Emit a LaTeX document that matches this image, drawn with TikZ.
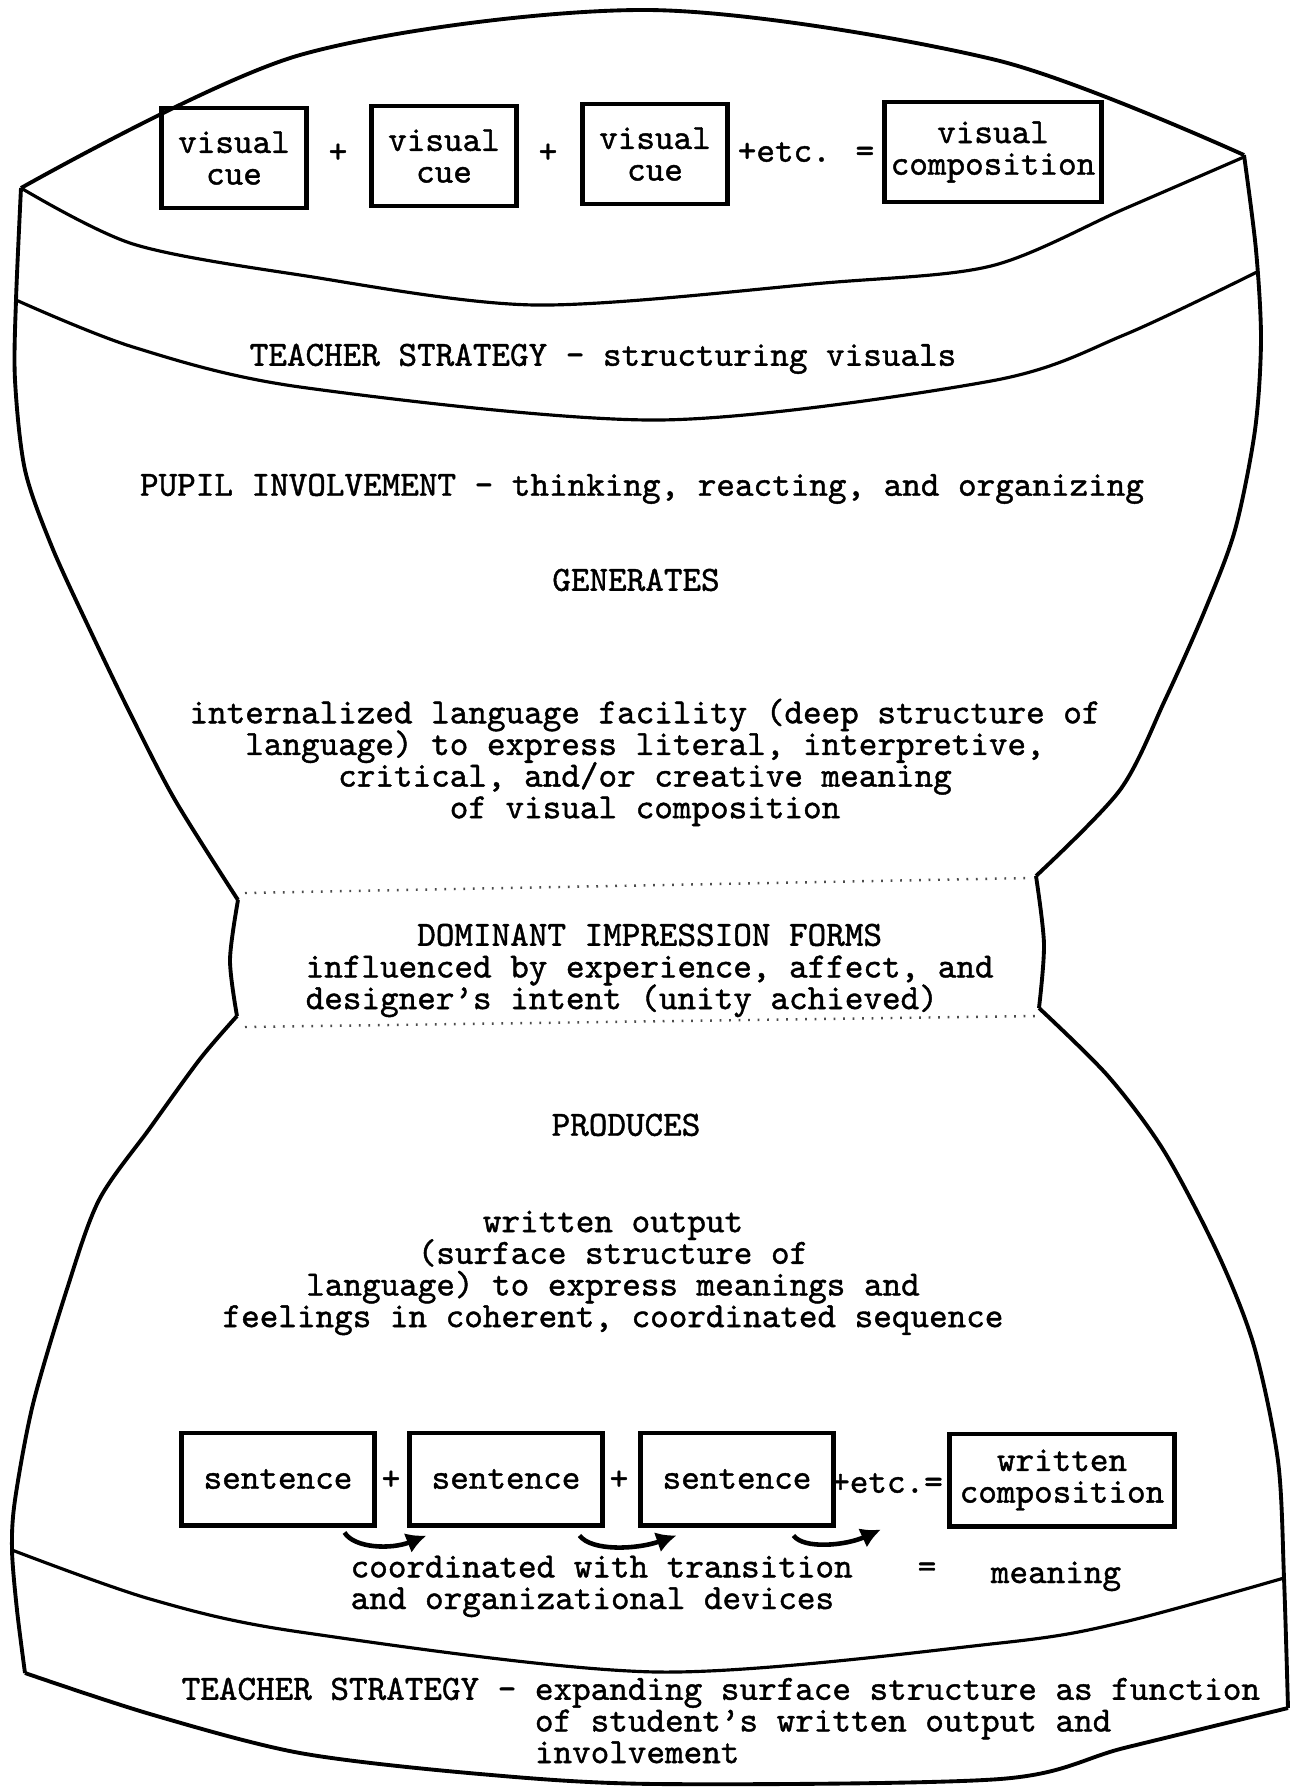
\documentclass[tikz,border=0pt]{standalone}
\usepackage{fontspec}
\setmainfont{lmmono10-regular.otf}[FakeBold=1.2]
\usetikzlibrary{arrows.meta}

\begin{document}
\begin{tikzpicture}[x=0.01cm, y=-0.01cm,
    font={\fontsize{10.07pt}{9pt}\selectfont\lineskiplimit=-10pt\lineskip=0pt},
    rim/.style={line width=1.1pt, line join=round},
    band/.style={line width=0.9pt},
    foldline/.style={line width=0.7pt, black!70, dash pattern=on 0.5pt off 2.2pt},
    cuebox/.style={draw, line width=1.4pt, align=center, minimum width=1.45cm, minimum height=1cm, inner sep=0pt},
    sentbox/.style={draw, line width=1.4pt, align=center, minimum width=1.92cm, minimum height=0.92cm, inner sep=0pt},
    linkarrow/.style={-{Latex[length=2mm,width=2.1mm]}, line width=1.3pt},
    typed/.style={inner sep=0pt}]
  \useasboundingbox (0,0) rectangle (1291,1787);

  % Top lens
  \draw[rim] plot[smooth] coordinates {(21,188) (300,55) (648,10) (996,60) (1244,155)};
  \draw[band] plot[smooth] coordinates {(21,188) (133,244) (300,275) (535,305) (824,283) (991,266) (1124,209) (1244,157)};

  % Upper bowl
  \draw[rim] plot[smooth] coordinates {(21,188) (16,300) (15,380) (25,470) (52,547) (90,630) (130,713) (175,800) (238,900)};
  \draw[rim] plot[smooth] coordinates {(1244,155) (1256,250) (1261,340) (1255,430) (1235,530) (1205,610) (1165,700) (1120,790) (1036,876)};
  \draw[band] plot[smooth] coordinates {(16,300) (133,347) (300,387) (659,420) (991,381) (1124,335) (1257,272)};

  % Waist
  \draw[rim] plot[smooth] coordinates {(238,900) (230,960) (237,1016)};
  \draw[rim] plot[smooth] coordinates {(1036,876) (1044,944) (1039,1008)};
  \draw[foldline] (245,893) -- (1030,878);
  \draw[foldline] (245,1027) -- (1035,1016);

  % Lower bell
  \draw[rim] plot[smooth] coordinates {(237,1016) (200,1059) (150,1128) (99,1200) (67,1289) (33,1404) (15,1500) (12,1550) (17,1610) (25,1673)};
  \draw[rim] plot[smooth] coordinates {(1039,1008) (1108,1076) (1164,1151) (1218,1254) (1254,1346) (1278,1461) (1284,1578) (1288,1708)};
  \draw[band] plot[smooth] coordinates {(12,1550) (150,1599) (300,1632) (657,1672) (1000,1643) (1124,1622) (1284,1578)};
  \draw[rim] plot[smooth] coordinates {(25,1673) (150,1714) (300,1753) (480,1774) (657,1784) (1000,1779) (1124,1748) (1288,1708)};

  % Visual cues
  \foreach \n/\x/\y in {cueA/234/158, cueB/444/156, cueC/655/154}
    \node[cuebox] (\n) at (\x,\y) {visual\\cue};
  \node[cuebox, minimum width=2.16cm] (cueSum) at (993,152) {visual\\composition};
  \node[typed] (plusA) at (338,153) {+};
  \node[typed] (plusB) at (548,153) {+};
  \node[typed] (etcA) at (806,152) {+etc. =};

  % Upper texts
  \node[typed, anchor=north] (teachTop) at (603,343) {TEACHER STRATEGY - structuring visuals};
  \node[typed, anchor=north] (pupil) at (642,473) {PUPIL INVOLVEMENT - thinking, reacting, and organizing};
  \node[typed, anchor=north] (generates) at (636,568) {GENERATES};
  \node[typed, anchor=north, align=center] (deep) at (645,698)
    {internalized language facility (deep structure of\\language) to express literal, interpretive,\\critical, and/or creative meaning\\of visual composition};

  % Waist text
  \node[typed, anchor=north west, align=left] (dominant) at (305,923)
    {\hphantom{DOMINA}DOMINANT IMPRESSION FORMS\\influenced by experience, affect, and\\designer's intent (unity achieved)};

  % Lower texts
  \node[typed, anchor=north] (produces) at (626,1113) {PRODUCES};
  \node[typed, anchor=north, align=center] (output) at (613,1210)
    {written output\\(surface structure of\\language) to express meanings and\\feelings in coherent, coordinated sequence};

  % Sentences
  \foreach \n/\x in {sentA/278, sentB/506, sentC/737}
    \node[sentbox] (\n) at (\x,1479) {sentence};
  \node[sentbox, minimum width=2.25cm] (sentSum) at (1062,1480) {written\\composition};
  \node[typed] (plusC) at (391,1480) {+};
  \node[typed] (plusD) at (619,1480) {+};
  \node[typed] (etcB) at (887,1483) {+etc.=};

  \draw[linkarrow] ([xshift=-0.32cm,yshift=-0.05cm]sentA.south east) .. controls +(10,16) and +(-35,14) .. ([xshift=0.19cm,yshift=-0.08cm]sentB.south west);
  \draw[linkarrow] ([xshift=-0.25cm,yshift=-0.08cm]sentB.south east) .. controls +(12,16) and +(-40,14) .. ([xshift=0.38cm,yshift=-0.08cm]sentC.south west);
  \draw[linkarrow] ([xshift=-0.42cm,yshift=-0.08cm]sentC.south east) .. controls +(10,14) and +(-35,16) .. ([xshift=-0.66cm,yshift=-0.01cm]sentSum.south west);

  \node[typed, anchor=north west, align=left] (coord) at (350,1555)
    {coordinated with transition\\and organizational devices};
  \node[typed] (eqB) at (927,1570) {=};
  \node[typed, anchor=base] (meaning) at (1056,1583) {meaning};

  % Bottom strategy
  \node[typed, anchor=north west, align=left] (teachBot) at (181,1677)
    {TEACHER STRATEGY - expanding surface structure as function\\\hphantom{TEACHER STRATEGY - }of student's written output and\\\hphantom{TEACHER STRATEGY - }involvement};
\end{tikzpicture}
\end{document}
